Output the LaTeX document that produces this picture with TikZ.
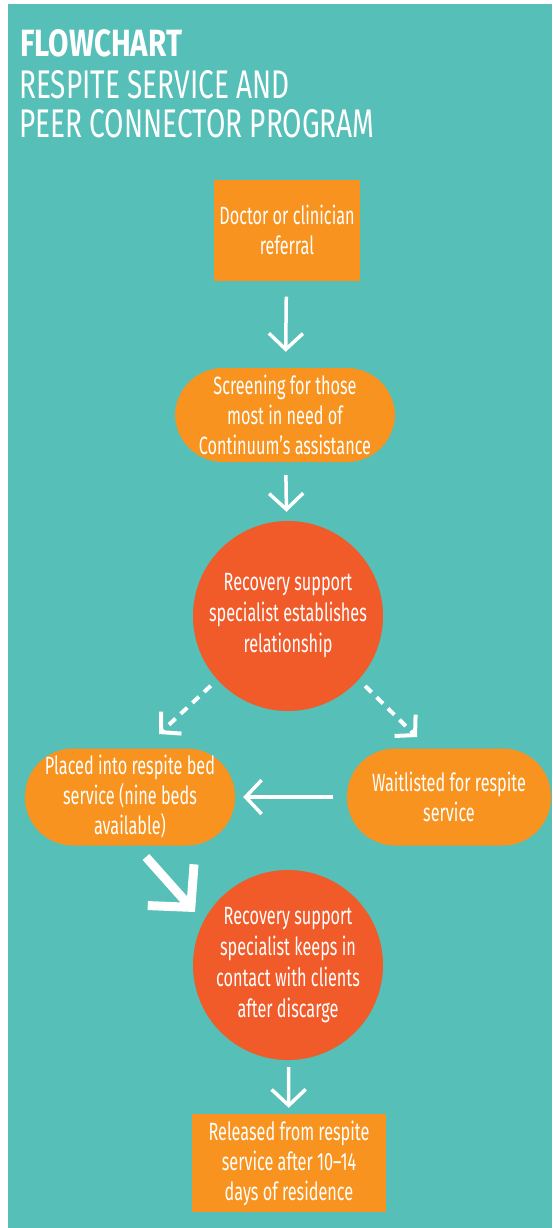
\documentclass[tikz,border=0pt]{standalone}
\usepackage{fontspec}
\setmainfont{Fira Sans}[FakeStretch=0.65]
\newfontfamily\headfont{Fira Sans}[FakeStretch=0.70]
\newfontfamily\titlefont{Fira Sans}[FakeStretch=0.78]
\usetikzlibrary{arrows.meta}
\definecolor{bgteal}{HTML}{55BFB8}
\definecolor{boxorange}{HTML}{F7931E}
\definecolor{circlered}{HTML}{F15A29}

\tikzset{
  stepbox/.style={fill=boxorange, text=white, align=center, inner sep=0pt,
    font=\fontsize{25}{30}\selectfont},
  pillbox/.style={stepbox, rounded corners=48pt},
  circbox/.style={stepbox, fill=circlered, circle, minimum size=190pt,
    font=\fontsize{25}{31}\selectfont},
  flowarrow/.style={draw=white, line width=3.5pt,
    -{Straight Barb[length=16pt,width=34pt]}},
  dasharrow/.style={flowarrow, line width=4pt, dash pattern=on 9pt off 7pt,
    -{Straight Barb[length=14pt,width=30pt]}},
  bigarrow/.style={draw=white, line width=9pt,
    -{Straight Barb[sharp,length=30pt,width=62pt]}},
  headline/.style={anchor=base west, text=white, inner sep=0pt},
}

\begin{document}
\begin{tikzpicture}[x=1pt,y=-1pt]
\useasboundingbox (0,0) rectangle (552,1228);
% Background
\fill[bgteal] (8,4) rectangle (552,1228);

% Title
\node[headline, font=\titlefont\fontsize{38}{38}\selectfont\bfseries] (title) at (20,57) {FLOWCHART};
\node[headline, font=\headfont\fontsize{40}{40}\selectfont] (sub1) at (19,99) {RESPITE SERVICE AND};
\node[headline, font=\headfont\fontsize{40}{40}\selectfont] (sub2) at (19,138) {PEER CONNECTOR PROGRAM};

% Steps
\node[stepbox, minimum width=146pt, minimum height=101pt] (referral) at (287,230) {Doctor or clinician\\referral};
\node[pillbox, minimum width=220pt, minimum height=94pt] (screening) at (285,415) {Screening for those\\most in need of\\Continuum's assistance};
\node[circbox] (relation) at (288,616) {Recovery support\\specialist establishes\\relationship};
\node[pillbox, minimum width=210pt, minimum height=97pt] (placed) at (130,797) {Placed into respite bed\\service (nine beds\\available)};
\node[pillbox, minimum width=204pt, minimum height=97pt] (waitlist) at (449,797) {Waitlisted for respite\\service};
\node[circbox] (contact) at (288,965) {Recovery support\\specialist keeps in\\contact with clients\\after discarge};
\node[stepbox, minimum width=194pt, minimum height=98pt] (released) at (289,1163) {Released from respite\\service after 10--14\\days of residence};

% Tips of the free arrows
\coordinate (lefttip) at (159,734);
\coordinate (righttip) at (417,737);
\coordinate (bigtail) at (146,857);
\coordinate (bigtip) at (195,912);

% Connectors
\draw[flowarrow, shorten <=16pt, shorten >=16pt] (referral) -- (screening);
\draw[flowarrow, shorten <=13pt, shorten >=9pt] (screening) -- (relation);
\draw[dasharrow, shorten <=9pt] (relation.222) -- (lefttip);
\draw[dasharrow, shorten <=9pt] (relation.318) -- (righttip);
\draw[flowarrow, shorten <=14pt, shorten >=8pt] (waitlist) -- (placed);
\draw[bigarrow] (bigtail) -- (bigtip);
\draw[flowarrow, shorten <=7pt, shorten >=6pt] (contact) -- (released);
\end{tikzpicture}
\end{document}
